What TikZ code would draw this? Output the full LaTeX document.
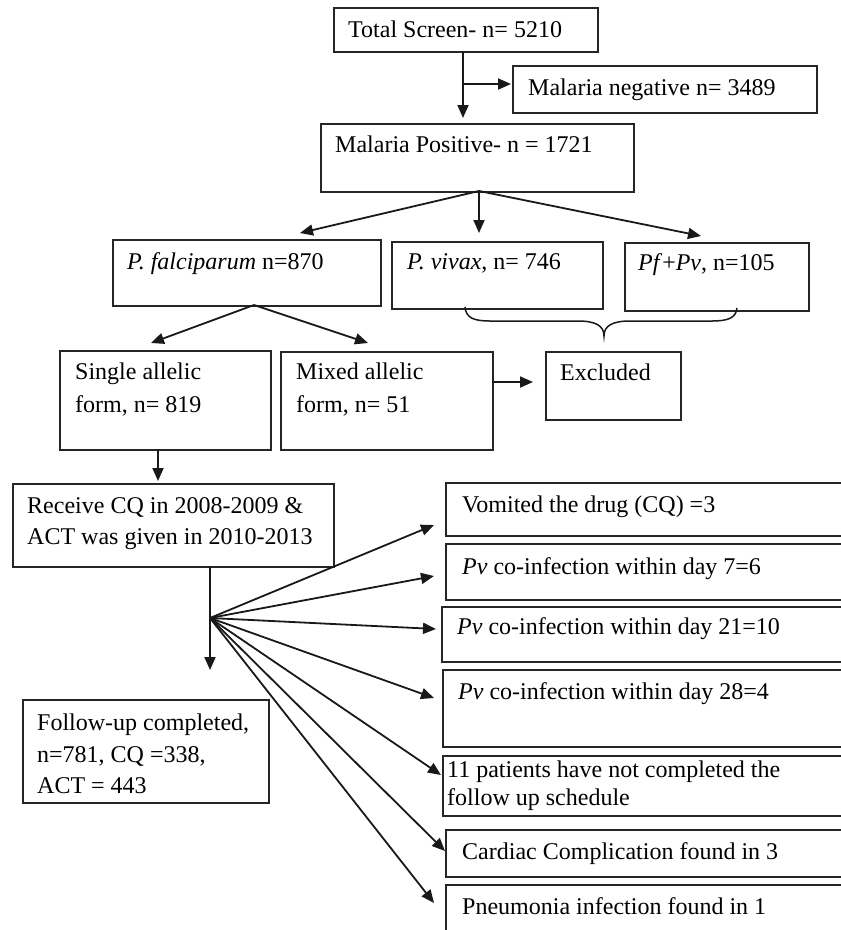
\documentclass[tikz,border=0pt]{standalone}
\usepackage{fontspec}
\setmainfont{Liberation Serif}
\usetikzlibrary{arrows.meta}
\begin{document}
\begin{tikzpicture}[x=1pt,y=-1pt,
  boxline/.style={draw=black!85, line width=1.5pt},
  txt/.style={inner sep=0pt, anchor=base west, font=\fontsize{24}{31.5}\selectfont},
  conn/.style={draw=black!90, line width=1.8pt, -{Triangle[length=13pt,width=11pt]}},
  plain/.style={draw=black!90, line width=1.8pt}]
\useasboundingbox (0,0) rectangle (841,930);
\clip (0,0) rectangle (841,930);
% boxes
\newcommand\mkbox[5]{\node[boxline, rectangle, inner sep=0pt, minimum width=#4pt-#2pt, minimum height=#5pt-#3pt, anchor=north west] (#1) at (#2,#3) {};}
\mkbox{ts}{333}{7}{597}{51}
\mkbox{neg}{512}{65}{816}{112}
\mkbox{pos}{320}{123}{633}{191}
\mkbox{pf}{112}{239}{380}{305}
\mkbox{pv}{391}{241}{602}{308}
\mkbox{pfpv}{624}{242}{808}{310}
\mkbox{single}{59}{350}{270}{449}
\mkbox{mixed}{280}{351}{492}{449}
\mkbox{excl}{545}{351}{680}{419}
\mkbox{recv}{12}{483}{333}{566}
\mkbox{fu}{22}{699}{268}{802}
\mkbox{ra}{445}{482}{870}{535}
\mkbox{rb}{445}{543}{870}{599}
\mkbox{rc}{441}{606}{870}{661}
\mkbox{rd}{442}{669}{870}{746}
\mkbox{re}{442}{755}{870}{815}
\mkbox{rf}{445}{829}{870}{876}
\mkbox{rg}{445}{884}{870}{945}
% texts
\node[txt] (tsT) at (348,37) {Total Screen- n= 5210};
\node[txt] (negT) at (528,95) {Malaria negative n= 3489};
\node[txt] (posT) at (335,152) {Malaria Positive- n = 1721};
\node[txt] (pfT) at (127,269) {\textit{P. falciparum} n=870};
\node[txt] (pvT) at (407,269) {\textit{P. vivax}, n= 746};
\node[txt] (pfpvT) at (638,270) {\textit{Pf}+\textit{Pv}, n=105};
\node[txt] (singleT1) at (75,379) {Single allelic};
\node[txt] (singleT2) at (75,412) {form, n= 819};
\node[txt] (mixedT1) at (296,379) {Mixed allelic};
\node[txt] (mixedT2) at (296,412) {form, n= 51};
\node[txt] (exclT) at (560,380) {Excluded};
\node[txt] (recvT1) at (27,513) {Receive CQ in 2008-2009 \&};
\node[txt] (recvT2) at (27,544) {ACT was given in 2010-2013};
\node[txt] (fuT1) at (37,730) {Follow-up completed,};
\node[txt] (fuT2) at (37,762) {n=781, CQ =338,};
\node[txt] (fuT3) at (37,793) {ACT = 443};
\node[txt] (raT) at (462,512) {Vomited the drug (CQ) =3};
\node[txt] (rbT) at (462,574) {\textit{Pv} co-infection within day 7=6};
\node[txt] (rcT) at (457,634) {\textit{Pv} co-infection within day 21=10};
\node[txt] (rdT) at (458,699) {\textit{Pv} co-infection within day 28=4};
\node[txt] (reT1) at (447,777) {11 patients have not completed the};
\node[txt] (reT2) at (447,805) {follow up schedule};
\node[txt] (rfT) at (462,859) {Cardiac Complication found in 3};
\node[txt] (rgT) at (462,914) {Pneumonia infection found in 1};
% coordinates
\coordinate (tsB) at (463,51);
\coordinate (branch) at (463,84);
\coordinate (posTip) at (463,118);
\coordinate (negTip) at (511,84);
\coordinate (posB) at (479,191);
\coordinate (pfTip) at (300,233);
\coordinate (pvTip) at (479,233);
\coordinate (pfpvTip) at (701,236);
\coordinate (pfB) at (254,305);
\coordinate (singleTip) at (151,343);
\coordinate (mixedTip) at (368,343);
\coordinate (mixedR) at (492,382);
\coordinate (exclTip) at (533,382);
\coordinate (singleB) at (158,449);
\coordinate (recvTip) at (158,481);
\coordinate (recvB) at (210,566);
\coordinate (fan) at (210,618);
\coordinate (fuTip) at (210,670);
\coordinate (raTip) at (434,525);
\coordinate (rbTip) at (434,576);
\coordinate (rcTip) at (436,629);
\coordinate (rdTip) at (434,698);
\coordinate (reTip) at (441,775);
\coordinate (rfTip) at (445,851);
\coordinate (rgTip) at (434,903);
% connectors
\draw[plain] (tsB) -- (branch);
\draw[conn] (branch) -- (posTip);
\draw[conn] (branch) -- (negTip);
\draw[conn] (posB) -- (pfTip);
\draw[conn] (posB) -- (pvTip);
\draw[conn] (posB) -- (pfpvTip);
\draw[conn] (pfB) -- (singleTip);
\draw[conn] (pfB) -- (mixedTip);
\draw[conn] (mixedR) -- (exclTip);
\draw[conn] (singleB) -- (recvTip);
\draw[plain] (recvB) -- (fan);
\draw[conn] (fan) -- (fuTip);
\foreach \t in {raTip,rbTip,rcTip,rdTip,reTip,rfTip,rgTip}
  \draw[conn] (fan) -- (\t);
% brace
\draw[draw=black!90, line width=1.5pt] (465,307) .. controls (466,318) and (474,321) .. (490,321)
  -- (578,321) .. controls (596,321) and (604,326) .. (604,336)
  .. controls (604,326) and (612,321) .. (630,321)
  -- (712,321) .. controls (728,321) and (736,318) .. (737,308);
\end{tikzpicture}
\end{document}
